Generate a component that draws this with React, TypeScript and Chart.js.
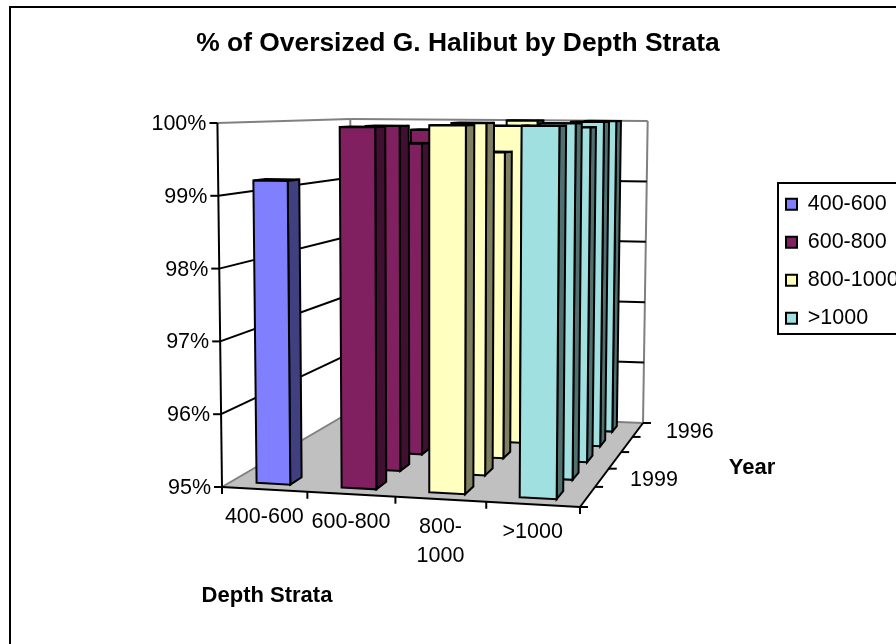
import React, { useEffect, useRef } from "react";
import { Chart, registerables } from "chart.js";

Chart.register(...registerables);

const TITLE = "% of Oversized G. Halibut by Depth Strata";
const STRATA = ["400-600", "600-800", "800-1000", ">1000"];
const STRATA_TICKS: (string | string[])[] = ["400-600", "600-800", ["800-", "1000"], ">1000"];
const YEARS_FRONT_TO_BACK = ["2000", "1999", "1998", "1997", "1996"];
const YEAR_TICKS_SHOWN = ["1999", "1996"];
const VALUES_2000 = [99.2, 99.95, 99.98, 99.98];
const VALUES_1999 = [null, 99.95, 100, 100];
const VALUES_1998 = [null, 99.67, 99.55, 99.93];
const VALUES_1997 = [null, 99.86, 99.93, 100];
const VALUES_1996 = [null, null, 100, 100];
const FACE = ["#8080FF", "#802060", "#FFFFC0", "#A0E0E0"];
const SIDE = ["#404080", "#401030", "#808060", "#507070"];

type P = [number, number];
const FLOOR: P[] = [[222, 487], [580, 507], [643, 423], [352, 411]];
const CEIL_Y = { frontLeft: 123, frontRight: 125, backLeft: 119, backRight: 121 };
const TILT_CENTER = 430;
const TILT = 0.022;
const FONT = "'Liberation Sans', Arial, sans-serif";

function homography(q: P[]) {
  const [[x0, y0], [x1, y1], [x2, y2], [x3, y3]] = q;
  const dx1 = x1 - x2, dx2 = x3 - x2, sx = x0 - x1 + x2 - x3;
  const dy1 = y1 - y2, dy2 = y3 - y2, sy = y0 - y1 + y2 - y3;
  const den = dx1 * dy2 - dx2 * dy1;
  const g = (sx * dy2 - dx2 * sy) / den;
  const h = (dx1 * sy - sx * dy1) / den;
  const a = x1 - x0 + g * x1, b = x3 - x0 + h * x3, d = y1 - y0 + g * y1, e = y3 - y0 + h * y3;
  return (u: number, v: number): P => {
    const w = g * u + h * v + 1;
    return [(a * u + b * v + x0) / w, (d * u + e * v + y0) / w];
  };
}
const floorAt = homography(FLOOR);
function project(u: number, v: number, w: number): P {
  const f = floorAt(u, v);
  const front = floorAt(u, 0)[1], back = floorAt(u, 1)[1];
  const s = (front - f[1]) / (front - back);
  const frontTop = CEIL_Y.frontLeft + (CEIL_Y.frontRight - CEIL_Y.frontLeft) * u;
  const backTop = CEIL_Y.backLeft + (CEIL_Y.backRight - CEIL_Y.backLeft) * u;
  const c: P = [f[0] + (f[0] - TILT_CENTER) * TILT, frontTop + (backTop - frontTop) * s];
  return [f[0] + (c[0] - f[0]) * w, f[1] + (c[1] - f[1]) * w];
}

function poly(ctx: CanvasRenderingContext2D, pts: P[], fill: string | null, stroke: string | null, lw = 2) {
  ctx.beginPath();
  pts.forEach((p, i) => (i ? ctx.lineTo(p[0], p[1]) : ctx.moveTo(p[0], p[1])));
  ctx.closePath();
  if (fill) { ctx.fillStyle = fill; ctx.fill(); }
  if (stroke) { ctx.strokeStyle = stroke; ctx.lineWidth = lw; ctx.lineJoin = "miter"; ctx.stroke(); }
}
function line(ctx: CanvasRenderingContext2D, a: P, b: P, color: string, lw = 2) {
  ctx.beginPath(); ctx.moveTo(a[0], a[1]); ctx.lineTo(b[0], b[1]);
  ctx.strokeStyle = color; ctx.lineWidth = lw; ctx.stroke();
}
function text(ctx: CanvasRenderingContext2D, s: string, x: number, y: number, font: string, align: CanvasTextAlign) {
  ctx.font = font; ctx.fillStyle = "#000"; ctx.textAlign = align; ctx.textBaseline = "middle";
  ctx.fillText(s, x, y);
}

const frame3d = {
  id: "frame3d",
  afterLayout(chart: any) {
    const t = chart.titleBlock;
    t.left = 158; t.right = 758;
    const l = chart.legend;
    l.left = 769.5; l.top = 177; l.right = 896; l.bottom = 400;
  },
  beforeDraw(chart: any) {
    const ctx = chart.ctx;
    ctx.save();
    ctx.fillStyle = "#fff";
    ctx.fillRect(0, 0, chart.width, chart.height);
    ctx.strokeStyle = "#000"; ctx.lineWidth = 2;
    ctx.strokeRect(10, 7, 1000, 1000);
    ctx.strokeRect(778, 183, 140, 151);
    ctx.restore();
  },
  beforeDatasetsDraw(chart: any) {
    const { ctx, scales } = chart;
    const { x, y, z } = scales;
    const uOf = (px: number) => (px - x.left) / x.width;
    const vOf = (px: number) => (px - z.left) / z.width;
    const wOf = (val: number) => (y.bottom - y.getPixelForValue(val)) / y.height;
    ctx.save();
    // walls and floor
    poly(ctx, [project(0, 0, 0), project(1, 0, 0), project(1, 1, 0), project(0, 1, 0)], "#C0C0C0", null);
    line(ctx, project(0, 0, 0), project(0, 1, 0), "#808080");
    line(ctx, project(0, 1, 0), project(1, 1, 0), "#808080");
    line(ctx, project(1, 1, 0), project(1, 1, 1), "#808080");
    line(ctx, project(1, 1, 1), project(0, 1, 1), "#808080");
    line(ctx, project(0, 1, 1), project(0, 1, 0), "#808080");
    line(ctx, project(0, 0, 1), project(0, 1, 1), "#808080");
    y.ticks.forEach((t: any) => {
      const w = wOf(t.value);
      if (w > 0 && w < 1) {
        line(ctx, project(0, 0, w), project(0, 1, w), "#000");
        line(ctx, project(0, 1, w), project(1, 1, w), "#000");
      }
      const p = project(0, 0, w);
      line(ctx, [p[0] - 8, p[1]], p, "#000");
      text(ctx, t.label, p[0] - 11, p[1] + 1, `21.5px ${FONT}`, "right");
    });
    line(ctx, project(0, 0, 0), project(0, 0, 1), "#000");
    line(ctx, project(0, 0, 0), project(1, 0, 0), "#000");
    line(ctx, project(1, 0, 0), project(1, 1, 0), "#000");
    for (let i = 0; i <= STRATA.length; i++) {
      const p = project(i / STRATA.length, 0, 0);
      line(ctx, p, [p[0], p[1] + 7], "#000");
    }
    for (let i = 0; i <= YEARS_FRONT_TO_BACK.length; i++) {
      const p = project(1, i / YEARS_FRONT_TO_BACK.length, 0);
      line(ctx, p, [p[0] + 8, p[1]], "#000");
    }
    // bars: back row first, left to right
    const halfU = (x.getPixelForValue(1) - x.getPixelForValue(0)) / x.width * 0.2;
    const halfV = (z.getPixelForValue(1) - z.getPixelForValue(0)) / z.width * 0.2;
    for (let r = chart.data.datasets.length - 1; r >= 0; r--) {
      const vals = chart.data.datasets[r].data;
      const v = vOf(z.getPixelForValue(r));
      vals.forEach((val: number | null, c: number) => {
        if (val == null) return;
        const u = uOf(x.getPixelForValue(c));
        const w = wOf(val);
        const u0 = u - halfU, u1 = u + halfU, v0 = v - halfV, v1 = v + halfV;
        poly(ctx, [project(u0, v0, w), project(u1, v0, w), project(u1, v1, w), project(u0, v1, w)], SIDE[c], "#000");
        poly(ctx, [project(u1, v0, 0), project(u1, v1, 0), project(u1, v1, w), project(u1, v0, w)], SIDE[c], "#000");
        poly(ctx, [project(u0, v0, 0), project(u1, v0, 0), project(u1, v0, w), project(u0, v0, w)], FACE[c], "#000");
      });
    }
    // category labels
    STRATA_TICKS.forEach((lab, c) => {
      const p = project(uOf(x.getPixelForValue(c)), 0, 0);
      const lines = Array.isArray(lab) ? lab : [lab];
      lines.forEach((s, k) => text(ctx, s, p[0], p[1] + 28 + k * 29, `21.5px ${FONT}`, "center"));
    });
    YEAR_TICKS_SHOWN.forEach((yr) => {
      const p = project(1, vOf(z.getPixelForValue(YEARS_FRONT_TO_BACK.indexOf(yr))), 0);
      text(ctx, yr, p[0] + 28, p[1] + 2.5, `21.5px ${FONT}`, "left");
    });
    text(ctx, "Depth Strata", 267, 596, `bold 22px ${FONT}`, "center");
    text(ctx, "Year", 752, 468, `bold 22px ${FONT}`, "center");
    ctx.restore();
    return false;
  },
};

export default function App() {
  const ref = useRef<HTMLCanvasElement>(null);
  useEffect(() => {
    const chart = new Chart(ref.current!, {
      type: "bar",
      data: {
        labels: STRATA,
        datasets: [VALUES_2000, VALUES_1999, VALUES_1998, VALUES_1997, VALUES_1996].map((data, i) => ({
          label: YEARS_FRONT_TO_BACK[i],
          data,
          backgroundColor: FACE,
          borderColor: "#000",
        })),
      },
      options: {
        responsive: false,
        animation: false,
        events: [],
        layout: { padding: { left: 222, right: 316, top: 0, bottom: 157 } },
        scales: {
          x: { display: false, offset: true },
          y: { display: false, min: 95, max: 100, ticks: { stepSize: 1, callback: (v: any) => `${v}%` } },
          z: { type: "category", axis: "x", position: "bottom", display: false, offset: true, labels: YEARS_FRONT_TO_BACK },
        },
        plugins: {
          title: {
            display: true,
            text: TITLE,
            color: "#000",
            font: { family: FONT, size: 26.4, weight: "bold", lineHeight: 1.2 },
            padding: { top: 28, bottom: 63.3 },
          },
          legend: {
            position: "chartArea",
            align: "start",
            labels: {
              color: "#000",
              font: { family: FONT, size: 21.5 },
              boxWidth: 11,
              boxHeight: 11,
              padding: 16.5,
              generateLabels: () =>
                STRATA.map((s, i) => ({ text: s, fillStyle: FACE[i], strokeStyle: "#000", lineWidth: 2, hidden: false, datasetIndex: 0 })),
            },
          },
          tooltip: { enabled: false },
        },
      },
      plugins: [frame3d],
    } as any);
    return () => chart.destroy();
  }, []);
  return <canvas ref={ref} width={896} height={644} style={{ position: "fixed", left: 0, top: 0, display: "block" }} />;
}
